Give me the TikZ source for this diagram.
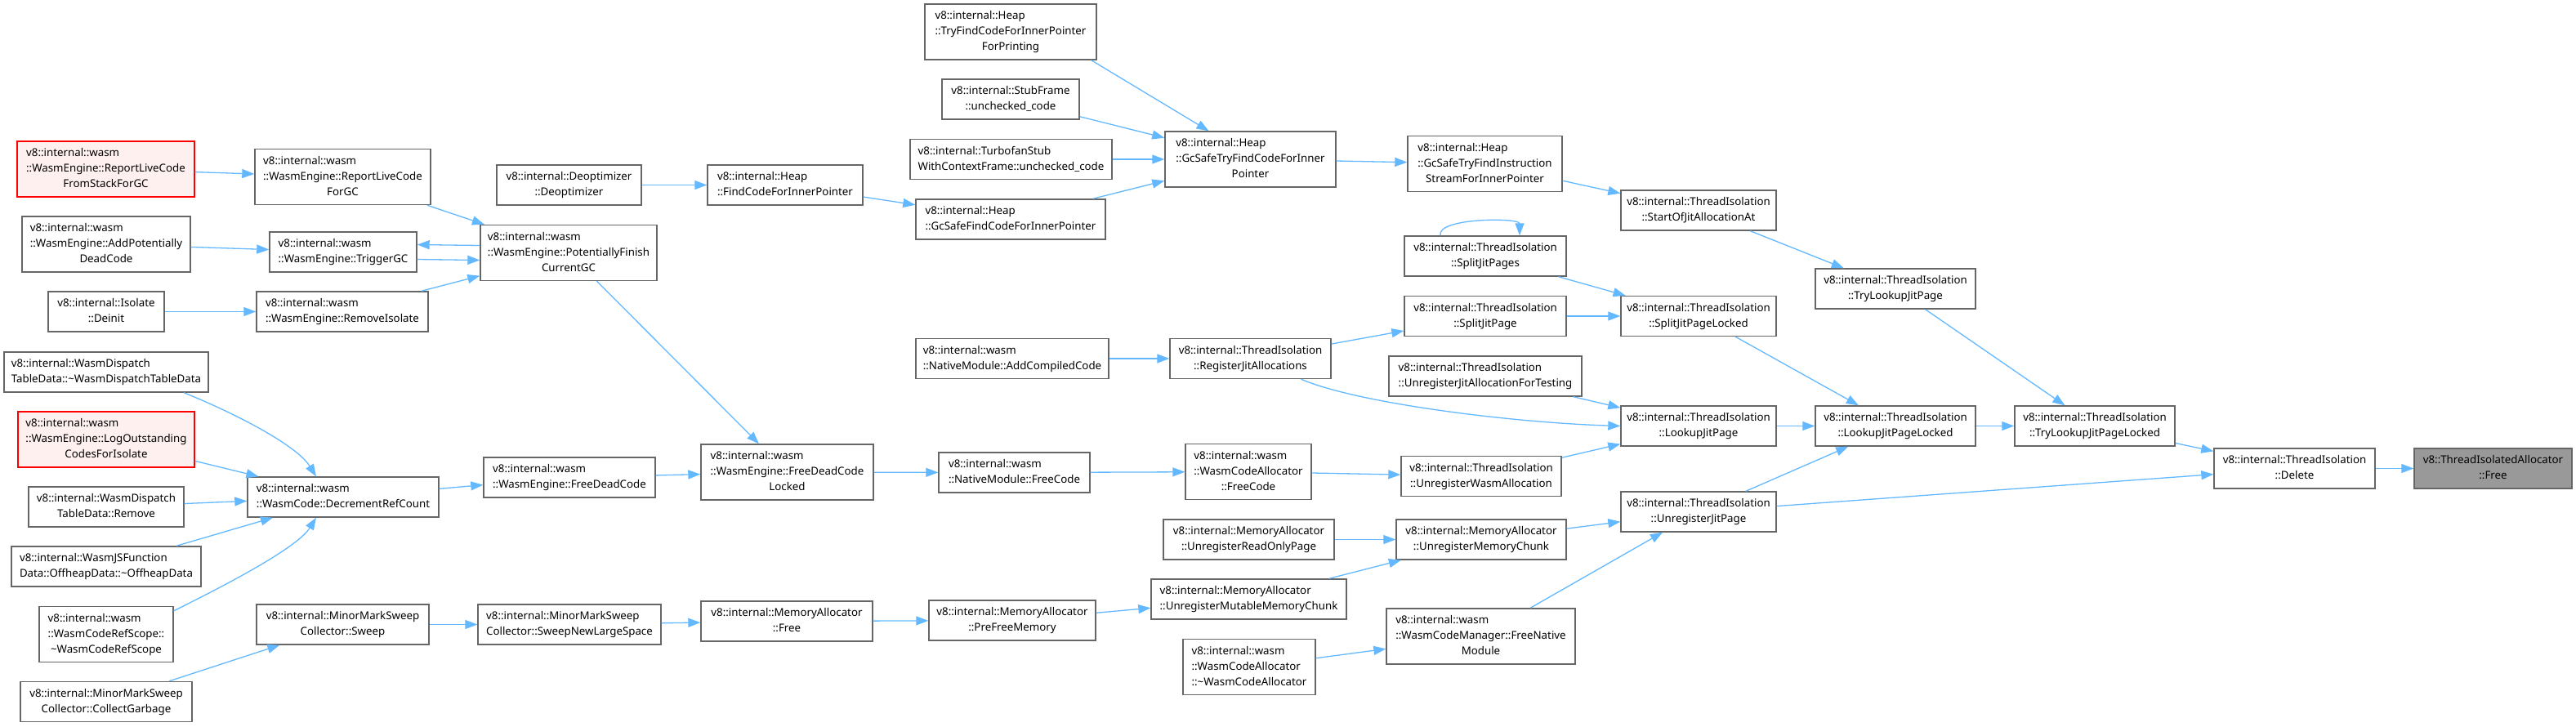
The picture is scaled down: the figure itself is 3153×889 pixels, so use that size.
\documentclass[tikz,border=0pt]{standalone}
\usepackage{fontspec}
\setmainfont{Noto Sans}
\usepackage{tikz}
\usetikzlibrary{arrows.meta}

\definecolor{edgeblue}{HTML}{63B8FF}
\definecolor{boxgray}{HTML}{666666}
\definecolor{rootgray}{HTML}{999999}
\definecolor{truncfill}{HTML}{FFF0F0}

% all lines left aligned, last one centred
\newcommand{\fn}[2]{\begin{tabular}{@{}l@{}}#1\\\multicolumn{1}{@{}c@{}}{#2}\end{tabular}}
\newcommand{\tl}{\textasciitilde}

\begin{document}
\begin{tikzpicture}[
    x=1pt, y=-1pt,
    box/.style={rectangle, draw=boxgray, fill=white, line width=1.4pt, inner sep=0pt, minimum height=49pt, font=\fontsize{13.3}{19}\selectfont},
    three/.style={minimum height=68pt},
    trunc/.style={draw=red, fill=truncfill},
    target/.style={fill=rootgray},
    arrow/.style={draw=edgeblue, line width=1.3pt, -{Triangle[length=15pt,width=11pt]}}
]
\useasboundingbox (0,0) rectangle (3153,889);

% Nodes
\node [box, three, trunc, minimum width=217pt] (reportstack) at (129.5,207) {\fn{v8::internal::wasm\\::WasmEngine::ReportLiveCode}{FromStackForGC}};
\node [box, three, minimum width=206pt] (addcode) at (130,299) {\fn{v8::internal::wasm\\::WasmEngine::AddPotentially}{DeadCode}};
\node [box, minimum width=142pt] (deinit) at (130,381.5) {\fn{v8::internal::Isolate}{::Deinit}};
\node [box, minimum width=250pt] (dtordispatch) at (130,455.5) {\fn{v8::internal::WasmDispatch}{TableData::\tl WasmDispatchTableData}};
\node [box, three, trunc, minimum width=216pt] (logcodes) at (130,538) {\fn{v8::internal::wasm\\::WasmEngine::LogOutstanding}{CodesForIsolate}};
\node [box, minimum width=190pt] (dispatchremove) at (130,620.5) {\fn{v8::internal::WasmDispatch}{TableData::Remove}};
\node [box, minimum width=232pt] (dtoroffheap) at (130,693.5) {\fn{v8::internal::WasmJSFunction}{Data::OffheapData::\tl OffheapData}};
\node [box, three, minimum width=164pt] (dtorrefscope) at (130,776.5) {\fn{v8::internal::wasm\\::WasmCodeRefScope::}{\tl WasmCodeRefScope}};
\node [box, minimum width=210pt] (collectgc) at (130,859) {\fn{v8::internal::MinorMarkSweep}{Collector::CollectGarbage}};

\node [box, three, minimum width=215pt] (reportgc) at (419.5,216.5) {\fn{v8::internal::wasm\\::WasmEngine::ReportLiveCode}{ForGC}};
\node [box, minimum width=180pt] (triggergc) at (420,308.5) {\fn{v8::internal::wasm}{::WasmEngine::TriggerGC}};
\node [box, minimum width=210pt] (removeiso) at (419,381.5) {\fn{v8::internal::wasm}{::WasmEngine::RemoveIsolate}};
\node [box, minimum width=234pt] (decref) at (420,608.5) {\fn{v8::internal::wasm}{::WasmCode::DecrementRefCount}};
\node [box, minimum width=211pt] (sweep) at (419.5,764.5) {\fn{v8::internal::MinorMarkSweep}{Collector::Sweep}};

\node [box, minimum width=177pt] (deopt) at (696.5,226.5) {\fn{v8::internal::Deoptimizer}{::Deoptimizer}};
\node [box, three, minimum width=216pt] (finishgc) at (696,309.5) {\fn{v8::internal::wasm\\::WasmEngine::PotentiallyFinish}{CurrentGC}};
\node [box, minimum width=210pt] (freedead) at (697,584.5) {\fn{v8::internal::wasm}{::WasmEngine::FreeDeadCode}};
\node [box, minimum width=224pt] (sweeplarge) at (697,764.5) {\fn{v8::internal::MinorMarkSweep}{Collector::SweepNewLargeSpace}};

\node [box, minimum width=190pt] (findinner) at (961,226.5) {\fn{v8::internal::Heap}{::FindCodeForInnerPointer}};
\node [box, three, minimum width=211pt] (freedeadlocked) at (963.5,578) {\fn{v8::internal::wasm\\::WasmEngine::FreeDeadCode}{Locked}};
\node [box, minimum width=210pt] (mafree) at (963,760.5) {\fn{v8::internal::MemoryAllocator}{::Free}};

\node [box, three, minimum width=210pt] (tryfindprint) at (1237,39) {\fn{v8::internal::Heap\\::TryFindCodeForInnerPointer}{ForPrinting}};
\node [box, minimum width=168pt] (stubframe) at (1237,121.5) {\fn{v8::internal::StubFrame}{::unchecked\_code}};
\node [box, minimum width=247pt] (turbofan) at (1237.5,195) {\fn{v8::internal::TurbofanStub}{WithContextFrame::unchecked\_code}};
\node [box, minimum width=232pt] (gcsafefind) at (1237,268.5) {\fn{v8::internal::Heap}{::GcSafeFindCodeForInnerPointer}};
\node [box, minimum width=236pt] (addcompiled) at (1239,439) {\fn{v8::internal::wasm}{::NativeModule::AddCompiledCode}};
\node [box, minimum width=185pt] (nmfreecode) at (1241.5,578.5) {\fn{v8::internal::wasm}{::NativeModule::FreeCode}};
\node [box, minimum width=204pt] (prefree) at (1239,759.5) {\fn{v8::internal::MemoryAllocator}{::PreFreeMemory}};

\node [box, three, minimum width=209pt] (gcsafetryfind) at (1530.5,195) {\fn{v8::internal::Heap\\::GcSafeTryFindCodeForInner}{Pointer}};
\node [box, minimum width=197pt] (registerjit) at (1530.5,439) {\fn{v8::internal::ThreadIsolation}{::RegisterJitAllocations}};
\node [box, three, minimum width=154pt] (wcafreecode) at (1528,577.5) {\fn{v8::internal::wasm\\::WasmCodeAllocator}{::FreeCode}};
\node [box, minimum width=209pt] (unregro) at (1528.5,660.5) {\fn{v8::internal::MemoryAllocator}{::UnregisterReadOnlyPage}};
\node [box, minimum width=239pt] (unregmut) at (1528.5,733.5) {\fn{v8::internal::MemoryAllocator}{::UnregisterMutableMemoryChunk}};
\node [box, three, minimum width=162pt] (dtorwca) at (1529,816.5) {\fn{v8::internal::wasm\\::WasmCodeAllocator}{::\tl WasmCodeAllocator}};

\node [box, three, minimum width=189pt] (gcsafestream) at (1817.5,200.5) {\fn{v8::internal::Heap\\::GcSafeTryFindInstruction}{StreamForInnerPointer}};
\node [box, minimum width=198pt] (splitpages) at (1818,313.5) {\fn{v8::internal::ThreadIsolation}{::SplitJitPages}};
\node [box, minimum width=198pt] (splitpage) at (1818,387) {\fn{v8::internal::ThreadIsolation}{::SplitJitPage}};
\node [box, minimum width=236pt] (unregtesting) at (1818,460.5) {\fn{v8::internal::ThreadIsolation}{::UnregisterJitAllocationForTesting}};
\node [box, minimum width=196pt] (unregwasm) at (1813,583) {\fn{v8::internal::ThreadIsolation}{::UnregisterWasmAllocation}};
\node [box, minimum width=208pt] (unregchunk) at (1813,660.5) {\fn{v8::internal::MemoryAllocator}{::UnregisterMemoryChunk}};
\node [box, three, minimum width=231pt] (freenative) at (1812.5,779) {\fn{v8::internal::wasm\\::WasmCodeManager::FreeNative}{Module}};

\node [box, minimum width=190pt] (startjit) at (2079,257.5) {\fn{v8::internal::ThreadIsolation}{::StartOfJitAllocationAt}};
\node [box, minimum width=190pt] (splitlocked) at (2079,387) {\fn{v8::internal::ThreadIsolation}{::SplitJitPageLocked}};
\node [box, minimum width=190pt] (lookup) at (2079,521.5) {\fn{v8::internal::ThreadIsolation}{::LookupJitPage}};
\node [box, minimum width=190pt] (unregjit) at (2079,626.5) {\fn{v8::internal::ThreadIsolation}{::UnregisterJitPage}};

\node [box, minimum width=196pt] (trylookup) at (2320,353.5) {\fn{v8::internal::ThreadIsolation}{::TryLookupJitPage}};
\node [box, minimum width=196pt] (lookuplocked) at (2320,521.5) {\fn{v8::internal::ThreadIsolation}{::LookupJitPageLocked}};
\node [box, minimum width=196pt] (trylookuplocked) at (2564,521.5) {\fn{v8::internal::ThreadIsolation}{::TryLookupJitPageLocked}};
\node [box, minimum width=197pt] (delete) at (2808.5,573.5) {\fn{v8::internal::ThreadIsolation}{::Delete}};
\node [box, target, minimum width=193pt] (free) at (3051.5,573.5) {\fn{v8::ThreadIsolatedAllocator}{::Free}};

% Connections
\draw [arrow] (reportstack) -- (reportgc);
\draw [arrow] (reportgc) -- (finishgc);
\draw [arrow] (addcode) -- (triggergc);
\draw [arrow] ([yshift=-9pt]triggergc.east) -- ([yshift=-9pt]finishgc.west);
\draw [arrow] ([yshift=9pt]finishgc.west) -- ([yshift=9pt]triggergc.east);
\draw [arrow] (deinit) -- (removeiso);
\draw [arrow] (removeiso) -- (finishgc);
\draw [arrow] (deopt) -- (findinner);
\draw [arrow] (findinner) -- (gcsafefind);
\draw [arrow] (finishgc) -- (freedeadlocked);
\draw [arrow] ([xshift=95pt]dtordispatch.south) .. controls +(55,22) and +(-25,-40) .. ([xshift=-33pt]decref.north);
\draw [arrow] (logcodes) -- (decref);
\draw [arrow] (dispatchremove) -- (decref);
\draw [arrow] (dtoroffheap) -- (decref);
\draw [arrow] ([yshift=-6pt]dtorrefscope.north east) .. controls +(40,-20) and +(-25,40) .. ([xshift=-33pt]decref.south);
\draw [arrow] (decref) -- (freedead);
\draw [arrow] (freedead) -- (freedeadlocked);
\draw [arrow] (collectgc) -- (sweep);
\draw [arrow] (sweep) -- (sweeplarge);
\draw [arrow] (sweeplarge) -- (mafree);
\draw [arrow] (mafree) -- (prefree);
\draw [arrow] (freedeadlocked) -- (nmfreecode);
\draw [arrow] (nmfreecode) -- (wcafreecode);
\draw [arrow] ([xshift=-7pt]tryfindprint.south east) -- ([xshift=-51pt]gcsafetryfind.north);
\draw [arrow] (stubframe) -- (gcsafetryfind);
\draw [arrow] (turbofan) -- (gcsafetryfind);
\draw [arrow] (gcsafefind) -- (gcsafetryfind);
\draw [arrow] (gcsafetryfind) -- (gcsafestream);
\draw [arrow] (gcsafestream) -- (startjit);
\draw [arrow] (startjit) -- (trylookup);
\draw [arrow] (trylookup) -- (trylookuplocked);
\draw [arrow] ([xshift=-55pt]splitpages.north) .. controls +(-5,-22) and +(0,-22) .. ([xshift=42pt]splitpages.north);
\draw [arrow] (splitpages) -- (splitlocked);
\draw [arrow] (splitpage) -- (splitlocked);
\draw [arrow] (splitlocked) -- (lookuplocked);
\draw [arrow] (addcompiled) -- (registerjit);
\draw [arrow] (registerjit) -- (splitpage);
\draw [arrow] ([xshift=62pt]registerjit.south) .. controls +(70,30) and +(-130,-4) .. (lookup.west);
\draw [arrow] (unregtesting) -- (lookup);
\draw [arrow] (unregwasm) -- (lookup);
\draw [arrow] (lookup) -- (lookuplocked);
\draw [arrow] (unregjit) -- (lookuplocked);
\draw [arrow] (lookuplocked) -- (trylookuplocked);
\draw [arrow] (trylookuplocked) -- (delete);
\draw [arrow] (unregjit) -- (delete);
\draw [arrow] (delete) -- (free);
\draw [arrow] (wcafreecode) -- (unregwasm);
\draw [arrow] (prefree) -- (unregmut);
\draw [arrow] (unregro) -- (unregchunk);
\draw [arrow] (unregmut) -- (unregchunk);
\draw [arrow] (unregchunk) -- (unregjit);
\draw [arrow] (dtorwca) -- (freenative);
\draw [arrow] (freenative) -- (unregjit);
\end{tikzpicture}
\end{document}
